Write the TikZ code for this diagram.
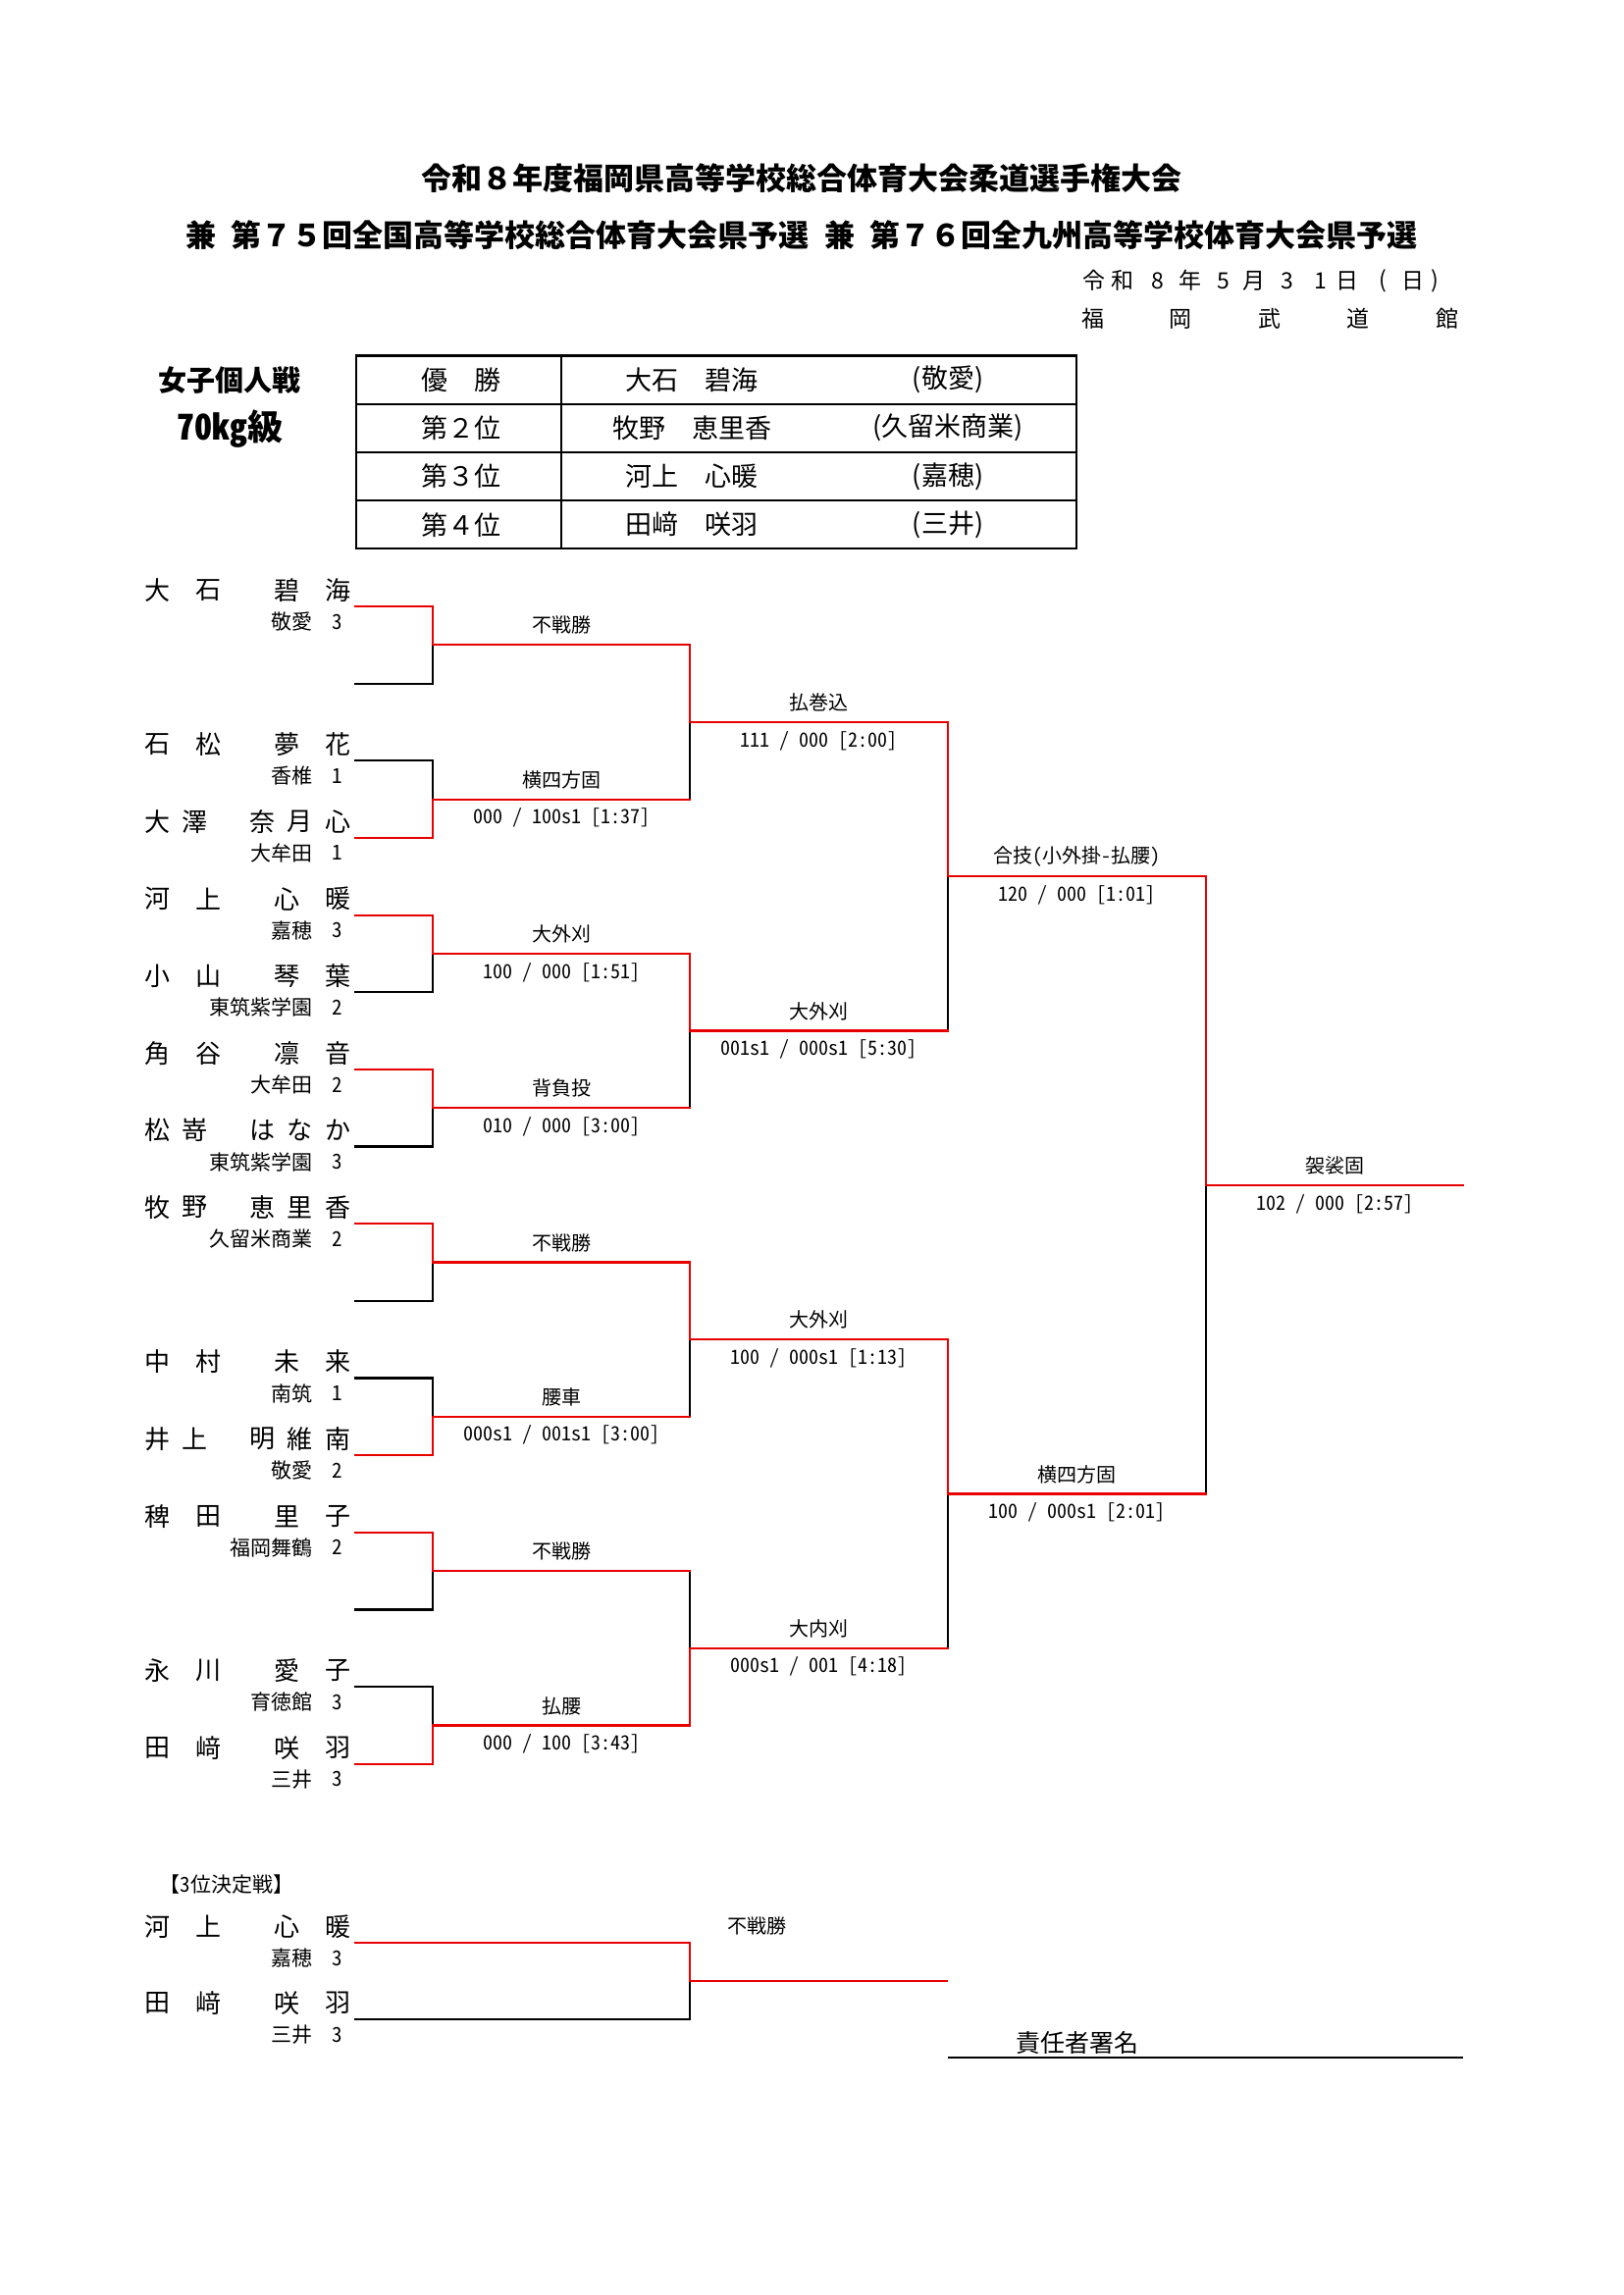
\documentclass[tikz,border=0pt]{standalone}
\usepackage{fontspec}
\setmainfont{Noto Sans CJK JP}
\newfontfamily\hw{Noto Sans CJK JP}[RawFeature=+hwid]
\definecolor{wred}{RGB}{232,0,0}
\tikzset{
  base/.style={inner sep=0pt,outer sep=0pt,anchor=center},
  ttl/.style={base,font=\fontsize{31}{31}\selectfont\bfseries},
  dt/.style={base,font=\fontsize{23}{23}\selectfont},
  hdr/.style={base,font=\fontsize{29}{29}\selectfont\bfseries},
  wt/.style={base,font=\hw\fontsize{36}{36}\selectfont\bfseries},
  tb/.style={base,font=\fontsize{27}{27}\selectfont},
  nm/.style={base,font=\fontsize{26}{26}\selectfont},
  sch/.style={base,font=\fontsize{21}{21}\selectfont},
  grd/.style={base,font=\hw\fontsize{21}{21}\selectfont},
  tech/.style={base,font=\fontsize{20}{20}\selectfont},
  score/.style={base,font=\hw\fontsize{20}{20}\selectfont},
  sign/.style={base,font=\fontsize{25}{25}\selectfont},
  ln/.style={line width=2.2pt,line cap=rect},
  lose/.style={ln,draw=black},
  win/.style={ln,draw=wred},
  tbl/.style={line width=2.2pt,draw=black,line cap=rect},
}
\newcommand\pfour[8]{%
  \node[nm] (#1a) at (160,{#2-16.5}) {#3};
  \node[nm] (#1b) at (212,{#2-16.5}) {#4};
  \node[nm] (#1c) at (292,{#2-16.5}) {#5};
  \node[nm] (#1d) at (344,{#2-16.5}) {#6};
  \node[sch,anchor=east] (#1s) at (318,{#2+15.5}) {#7};
  \node[grd] (#1g) at (343.5,{#2+15.5}) {#8};
  \coordinate (#1) at (362,#2);
}
\newcommand\pfive[9]{%
  \node[nm] (#1a) at (160,{#2-16.5}) {#3};
  \node[nm] (#1b) at (198,{#2-16.5}) {#4};
  \node[nm] (#1c) at (267,{#2-16.5}) {#5};
  \node[nm] (#1d) at (305,{#2-16.5}) {#6};
  \node[nm] (#1e) at (344,{#2-16.5}) {#7};
  \node[sch,anchor=east] (#1s) at (318,{#2+15.5}) {#8};
  \node[grd] (#1g) at (343.5,{#2+15.5}) {#9};
  \coordinate (#1) at (362,#2);
}
\newcommand\tlab[4]{\node[tech] (tech-#1) at (#2,{#3-20}) {#4};}
\newcommand\slab[4]{\node[score] (score-#1) at (#2,{#3+19}) {#4};}
\begin{document}
\begin{tikzpicture}[x=1pt,y=-1pt]
\useasboundingbox (0,0) rectangle (1654,2339);
\fill[white] (0,0) rectangle (1654,2339);

% titles
\node[ttl] (title1) at (817,182) {令和８年度福岡県高等学校総合体育大会柔道選手権大会};
\node[ttl] (title2) at (817,240) {兼\hspace{0.5em}第７５回全国高等学校総合体育大会県予選\hspace{0.5em}兼\hspace{0.5em}第７６回全九州高等学校体育大会県予選};
\foreach \x/\c [count=\i] in {1115/令,1144/和,1180/8,1213/年,1247/5,1278/月,1312/3,1346/1,1373/日,1409/(,1440/日,1462/)}
  \node[dt] (date\i) at (\x,286) {\c};
\foreach \x/\c [count=\i] in {1114/福,1203/岡,1294/武,1384/道,1475/館}
  \node[dt] (venue\i) at (\x,325) {\c};

% header
\node[hdr] (event) at (234,388) {女子個人戦};
\node[wt] (weight) at (234,437) {70kg級};

% result table
\draw[tbl] (363,362.4) rectangle (1097,559.3);
\draw[tbl] (363,411.6) -- (1097,411.6) (363,460.9) -- (1097,460.9) (363,510.1) -- (1097,510.1) (572,362.4) -- (572,559.3);
\foreach \y/\a/\b/\c [count=\i] in {387/優　勝/大石　碧海/(敬愛),436.2/第２位/牧野　恵里香/(久留米商業),485.5/第３位/河上　心暖/(嘉穂),534.7/第４位/田﨑　咲羽/(三井)}{
  \node[tb] (rank\i) at (470,\y) {\a};
  \node[tb] (rname\i) at (705,\y) {\b};
  \node[tb] (rschool\i) at (966,\y) {\c};
}

% players
\pfour{p0}{618}{大}{石}{碧}{海}{敬愛}{3}
\coordinate (p1) at (362,696.65);
\pfour{p2}{775.3}{石}{松}{夢}{花}{香椎}{1}
\pfive{p3}{853.95}{大}{澤}{奈}{月}{心}{大牟田}{1}
\pfour{p4}{932.6}{河}{上}{心}{暖}{嘉穂}{3}
\pfour{p5}{1011.25}{小}{山}{琴}{葉}{東筑紫学園}{2}
\pfour{p6}{1089.9}{角}{谷}{凛}{音}{大牟田}{2}
\pfive{p7}{1168.55}{松}{嵜}{は}{な}{か}{東筑紫学園}{3}
\pfive{p8}{1247.2}{牧}{野}{恵}{里}{香}{久留米商業}{2}
\coordinate (p9) at (362,1325.85);
\pfour{p10}{1404.5}{中}{村}{未}{来}{南筑}{1}
\pfive{p11}{1483.15}{井}{上}{明}{維}{南}{敬愛}{2}
\pfour{p12}{1561.8}{稗}{田}{里}{子}{福岡舞鶴}{2}
\coordinate (p13) at (362,1640.45);
\pfour{p14}{1719.1}{永}{川}{愛}{子}{育徳館}{3}
\pfour{p15}{1797.75}{田}{﨑}{咲}{羽}{三井}{3}

% match points
\coordinate (m1) at (441,657.3);
\coordinate (m2) at (441,814.6);
\coordinate (m3) at (441,971.9);
\coordinate (m4) at (441,1129.2);
\coordinate (m5) at (441,1286.5);
\coordinate (m6) at (441,1443.8);
\coordinate (m7) at (441,1601.1);
\coordinate (m8) at (441,1758.4);
\coordinate (q1) at (703,735.95);
\coordinate (q2) at (703,1050.55);
\coordinate (q3) at (703,1365.15);
\coordinate (q4) at (703,1679.75);
\coordinate (s1) at (966,893.25);
\coordinate (s2) at (966,1522.45);
\coordinate (f) at (1229,1207.85);
\coordinate (champ) at (1491,1207.85);

% losing lines
\draw[lose] (p1) -| (m1) (p2) -| (m2) (p5) -| (m3) (p7) -| (m4)
            (p9) -| (m5) (p10) -| (m6) (p13) -| (m7) (p14) -| (m8);
\draw[lose] (m2 -| q1) -- (q1) (m4 -| q2) -- (q2) (m6 -| q3) -- (q3) (m7 -| q4) -- (q4);
\draw[lose] (q2 -| s1) -- (s1) (q4 -| s2) -- (s2);
\draw[lose] (s2 -| f) -- (f);
% winning lines
\draw[win] (p0) -| (m1) (p3) -| (m2) (p4) -| (m3) (p6) -| (m4)
           (p8) -| (m5) (p11) -| (m6) (p12) -| (m7) (p15) -| (m8);
\draw[win] (m1) -| (q1) (m2) -- (m2 -| q1) (m3) -| (q2) (m4) -- (m4 -| q2)
           (m5) -| (q3) (m6) -- (m6 -| q3) (m7) -- (m7 -| q4) (m8) -| (q4);
\draw[win] (q1) -| (s1) (q2) -- (q2 -| s1) (q3) -| (s2) (q4) -- (q4 -| s2);
\draw[win] (s1) -| (f) (s2) -- (s2 -| f) (f) -- (champ);

% labels round 1
\tlab{m1}{572}{657.3}{不戦勝}
\tlab{m2}{572}{814.6}{横四方固}\slab{m2}{572}{814.6}{000 / 100s1 [1:37]}
\tlab{m3}{572}{971.9}{大外刈}\slab{m3}{572}{971.9}{100 / 000 [1:51]}
\tlab{m4}{572}{1129.2}{背負投}\slab{m4}{572}{1129.2}{010 / 000 [3:00]}
\tlab{m5}{572}{1286.5}{不戦勝}
\tlab{m6}{572}{1443.8}{腰車}\slab{m6}{572}{1443.8}{000s1 / 001s1 [3:00]}
\tlab{m7}{572}{1601.1}{不戦勝}
\tlab{m8}{572}{1758.4}{払腰}\slab{m8}{572}{1758.4}{000 / 100 [3:43]}
% round 2
\tlab{q1}{834.5}{735.95}{払巻込}\slab{q1}{834.5}{735.95}{111 / 000 [2:00]}
\tlab{q2}{834.5}{1050.55}{大外刈}\slab{q2}{834.5}{1050.55}{001s1 / 000s1 [5:30]}
\tlab{q3}{834.5}{1365.15}{大外刈}\slab{q3}{834.5}{1365.15}{100 / 000s1 [1:13]}
\tlab{q4}{834.5}{1679.75}{大内刈}\slab{q4}{834.5}{1679.75}{000s1 / 001 [4:18]}
% semis and final
\tlab{s1}{1097.5}{893.25}{合技{\hw(}小外掛{\hw-}払腰{\hw)}}\slab{s1}{1097.5}{893.25}{120 / 000 [1:01]}
\tlab{s2}{1097.5}{1522.45}{横四方固}\slab{s2}{1097.5}{1522.45}{100 / 000s1 [2:01]}
\tlab{f}{1360}{1207.85}{袈裟固}\slab{f}{1360}{1207.85}{102 / 000 [2:57]}

% third place bout
\node[tech,font=\fontsize{21}{21}\selectfont] (third) at (231,1920) {【{\hw 3}位決定戦】};
\pfour{tA}{1980}{河}{上}{心}{暖}{嘉穂}{3}
\pfour{tB}{2058}{田}{﨑}{咲}{羽}{三井}{3}
\coordinate (tm) at (703,2019);
\coordinate (tend) at (965,2019);
\draw[lose] (tB) -| (tm);
\draw[win] (tA) -| (tm) (tm) -- (tend);
\node[tech] (tech-third) at (771,1963) {不戦勝};

% signature
\node[sign] (sig) at (1098,2082) {責任者署名};
\coordinate (sigl) at (966,2097);
\coordinate (sigr) at (1491,2097);
\draw[line width=2.5pt] (sigl) -- (sigr);
\end{tikzpicture}
\end{document}
